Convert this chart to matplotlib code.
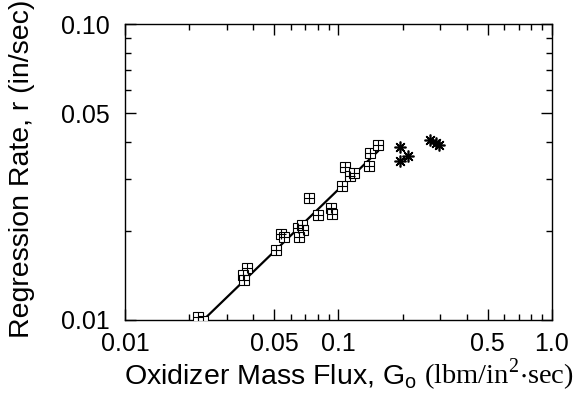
import matplotlib
matplotlib.use("Agg")
import matplotlib.pyplot as plt
from matplotlib.ticker import FixedLocator, NullFormatter, FixedFormatter
from matplotlib.offsetbox import TextArea, HPacker, AnchoredOffsetbox

# Data: square (cross-hatched) points
sq_x = [0.0220, 0.0233, 0.0372, 0.0356, 0.0361, 0.0510, 0.0536, 0.0557,
        0.0648, 0.0677, 0.0684, 0.0653, 0.0730, 0.0799, 0.0925, 0.0929,
        0.1038, 0.1072, 0.1136, 0.1178, 0.1405, 0.1390, 0.1540]
sq_y = [0.0102, 0.0099, 0.0150, 0.0142, 0.0136, 0.0172, 0.0196, 0.0191,
        0.0205, 0.0209, 0.0202, 0.0191, 0.0259, 0.0227, 0.0239, 0.0228,
        0.0285, 0.0330, 0.0306, 0.0315, 0.0366, 0.0332, 0.0392]
# Data: asterisk points
st_x = [0.194, 0.194, 0.212, 0.268, 0.286, 0.297]
st_y = [0.0386, 0.0346, 0.0360, 0.0407, 0.0396, 0.0391]
# Fit line end points
fit_x = [0.0233, 0.153]
fit_y = [0.0100, 0.0372]

x_major = [0.01, 0.05, 0.1, 0.5, 1.0]
x_labels = ["0.01", "0.05", "0.1", "0.5", "1.0"]
x_minor = [0.02, 0.03, 0.04, 0.06, 0.07, 0.08, 0.09,
           0.2, 0.3, 0.4, 0.6, 0.7, 0.8, 0.9]
y_major = [0.01, 0.05, 0.10]
y_labels = ["0.01", "0.05", "0.10"]
y_minor = [0.02, 0.03, 0.04, 0.06, 0.07, 0.08, 0.09]

sans = "Liberation Sans"
serif = "Liberation Serif"
fs_tick = 18
fs_lab = 20.5

fig = plt.figure(figsize=(5.76, 3.95), dpi=100)
ax = fig.add_axes([0.217, 0.190, 0.741, 0.748])
ax.set_xscale("log")
ax.set_yscale("log")
ax.set_xlim(0.01, 1.0)
ax.set_ylim(0.01, 0.10)

ax.plot(fit_x, fit_y, color="black", lw=1.6, zorder=2)
ax.plot(sq_x, sq_y, linestyle="none", marker="s", ms=7, mfc="white",
        mec="black", mew=0.8, zorder=3)
ax.plot(sq_x, sq_y, linestyle="none", marker="+", ms=7,
        mec="black", mew=0.8, zorder=4)
ax.plot(st_x, st_y, linestyle="none", marker=(8, 2, 0), ms=8.5,
        mec="black", mew=1.2, zorder=3)

ax.xaxis.set_major_locator(FixedLocator(x_major))
ax.xaxis.set_major_formatter(FixedFormatter(x_labels))
ax.xaxis.set_minor_locator(FixedLocator(x_minor))
ax.xaxis.set_minor_formatter(NullFormatter())
ax.yaxis.set_major_locator(FixedLocator(y_major))
ax.yaxis.set_major_formatter(FixedFormatter(y_labels))
ax.yaxis.set_minor_locator(FixedLocator(y_minor))
ax.yaxis.set_minor_formatter(NullFormatter())

ax.tick_params(which="both", direction="in", top=True, right=True,
               width=1.0, colors="black")
ax.tick_params(which="major", length=8, labelsize=fs_tick)
ax.tick_params(axis="x", which="major", pad=9)
ax.tick_params(axis="y", which="major", pad=11)
ax.tick_params(which="minor", length=4)
for lab in ax.get_xticklabels() + ax.get_yticklabels():
    lab.set_fontfamily(sans)
for s in ax.spines.values():
    s.set_linewidth(1.0)

ax.set_ylabel("Regression Rate, r (in/sec)", fontsize=fs_lab, fontfamily=sans)
ax.yaxis.set_label_coords(-0.211, 0.511)

t1 = TextArea(r"Oxidizer Mass Flux, G$_\mathregular{o}$",
              textprops=dict(fontsize=fs_lab, fontfamily=sans))
t2 = TextArea(r" (lbm/in$^\mathregular{2}$$\mathregular{\cdot}$sec)",
              textprops=dict(fontsize=fs_lab, fontfamily=serif))
box = HPacker(children=[t1, t2], align="baseline", pad=0, sep=0)
anch = AnchoredOffsetbox(loc="upper center", child=box, pad=0, frameon=False,
                         bbox_to_anchor=(0.606, 0.097),
                         bbox_transform=fig.transFigure, borderpad=0)
fig.add_artist(anch)

fig.savefig("out.png", dpi=100)
